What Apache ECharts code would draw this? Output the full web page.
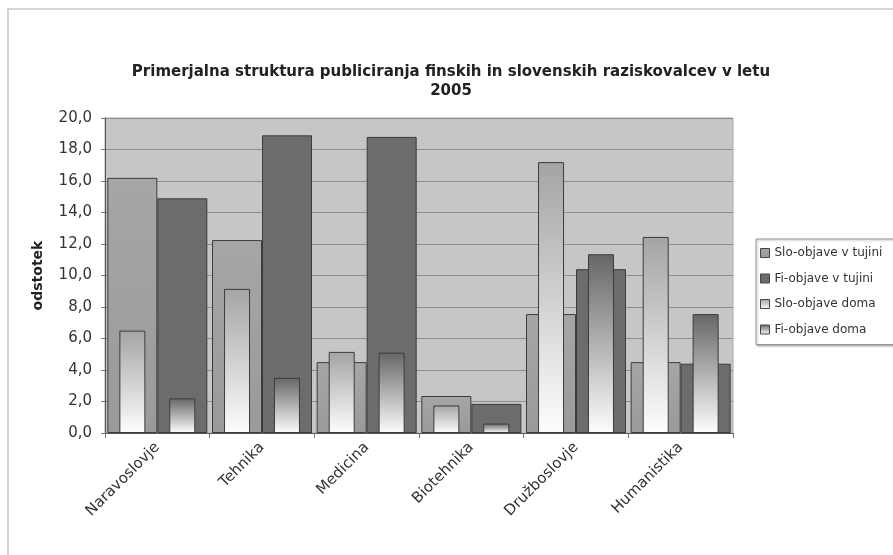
<!DOCTYPE html>
<html>
<head>
<meta charset="utf-8">
<script src="https://cdn.jsdelivr.net/npm/echarts@6/dist/echarts.min.js"></script>
<style>
  html, body { margin: 0; padding: 0; background: #fff; }
  #chart { width: 893px; height: 555px; }
</style>
</head>
<body>
<div id="chart"></div>
<script>
// categories and values
var categories = ['Naravoslovje', 'Tehnika', 'Medicina', 'Biotehnika', 'Družboslovje', 'Humanistika']
var sloTujini = [16.2, 12.25, 4.5, 2.35, 7.55, 4.5]
var fiTujini = [14.9, 18.9, 18.8, 1.85, 10.4, 4.4]
var sloDoma = [6.5, 9.15, 5.15, 1.75, 17.2, 12.45]
var fiDoma = [2.2, 3.5, 5.1, 0.6, 11.35, 7.55]
var seriesNames = ['Slo-objave v tujini', 'Fi-objave v tujini', 'Slo-objave doma', 'Fi-objave doma']

function grad(top, bottom){
    return new echarts.graphic.LinearGradient(0, 0, 0, 1, [
        { offset: 0, color: top },
        { offset: 1, color: bottom }
    ])
}

var chart = echarts.init(document.getElementById('chart'))
var font = '"DejaVu Sans", Arial, sans-serif'

chart.setOption({
    animation: false,
    textStyle: { fontFamily: font },
    graphic: [{
        type: 'rect',
        shape: { x: 8, y: 9, width: 950, height: 600 },
        style: { fill: 'none', stroke: '#d4d4d4', lineWidth: 2 },
        silent: true
    }],
    title: {
        text: 'Primerjalna struktura publiciranja finskih in slovenskih raziskovalcev v letu\n2005',
        left: 446,
        textAlign: 'center',
        top: 58,
        textStyle: { fontSize: 15, fontWeight: 'bold', color: '#222', lineHeight: 19, fontFamily: font }
    },
    legend: {
        orient: 'vertical',
        left: 756,
        top: 239,
        data: seriesNames,
        icon: 'rect',
        itemWidth: 9,
        itemHeight: 9,
        itemGap: 13.5,
        padding: [8, 20, 9, 4],
        borderColor: '#999',
        borderWidth: 1,
        backgroundColor: '#fff',
        shadowColor: 'rgba(0,0,0,0.3)',
        shadowOffsetX: 1,
        shadowOffsetY: 1,
        shadowBlur: 2,
        textStyle: { fontSize: 12, color: '#333', padding: [0, 0, 0, 0] },
        itemStyle: { borderColor: '#444', borderWidth: 1 }
    },
    grid: {
        left: 105,
        right: 160,
        top: 118,
        bottom: 122,
        show: true,
        backgroundColor: '#c6c6c6',
        borderColor: '#aaa',
        borderWidth: 1
    },
    xAxis: [{
        type: 'category',
        data: categories,
        axisLine: { lineStyle: { color: '#555', width: 1 } },
        axisTick: { show: true, length: 5, lineStyle: { color: '#777' } },
        axisLabel: { interval: 0, rotate: 45, fontSize: 15, color: '#333', margin: 12 }
    }, {
        type: 'category',
        data: categories,
        show: false
    }],
    yAxis: {
        type: 'value',
        min: 0,
        max: 20,
        interval: 2,
        name: 'odstotek',
        nameLocation: 'middle',
        nameGap: 60,
        nameTextStyle: { fontSize: 14, fontWeight: 'bold', color: '#222' },
        axisLine: { show: true, lineStyle: { color: '#555' } },
        axisTick: { show: true, length: 4, lineStyle: { color: '#777' } },
        axisLabel: {
            fontSize: 15,
            color: '#333',
            margin: 13,
            formatter: function(v){ return v.toFixed(1).replace('.', ',') }
        },
        splitLine: { lineStyle: { color: '#8e8e8e', width: 1 } }
    },
    series: [
        {
            name: seriesNames[0],
            type: 'bar',
            xAxisIndex: 0,
            data: sloTujini,
            barWidth: 50,
            barGap: '0%',
            itemStyle: { color: grad('#a6a6a8', '#9a9a9d'), borderColor: '#3c3c3c', borderWidth: 1 }
        },
        {
            name: seriesNames[1],
            type: 'bar',
            xAxisIndex: 0,
            data: fiTujini,
            barWidth: 50,
            barGap: '0%',
            itemStyle: { color: '#6c6c6f', borderColor: '#3c3c3c', borderWidth: 1 }
        },
        {
            name: seriesNames[2],
            type: 'bar',
            xAxisIndex: 1,
            data: sloDoma,
            barWidth: 26,
            barGap: '92%',
            itemStyle: { color: grad('#a4a4a6', '#fdfdfd'), borderColor: '#3c3c3c', borderWidth: 1 }
        },
        {
            name: seriesNames[3],
            type: 'bar',
            xAxisIndex: 1,
            data: fiDoma,
            barWidth: 26,
            barGap: '92%',
            itemStyle: { color: grad('#666668', '#fdfdfd'), borderColor: '#3c3c3c', borderWidth: 1 }
        }
    ]
})
</script>
</body>
</html>
